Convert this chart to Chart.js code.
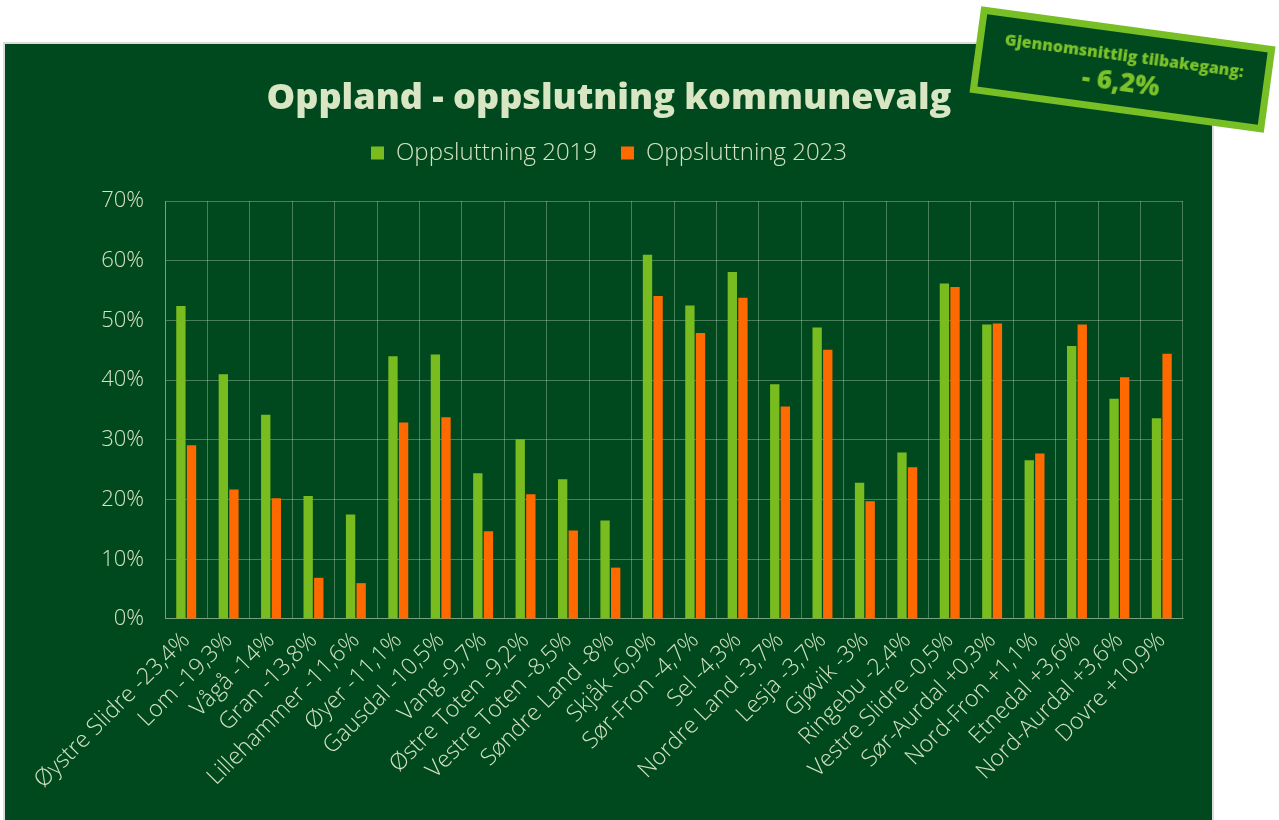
<!DOCTYPE html>
<html>
<head>
<meta charset="utf-8">
<script src="https://cdn.jsdelivr.net/npm/chart.js@4"></script>
<style>
  body { margin: 0; background: #fff; width: 1279px; height: 820px; overflow: hidden; position: relative; font-family: "Open Sans", sans-serif; }
  #panel { position: absolute; left: 5px; top: 44px; width: 1207px; height: 776px; background: #00491e; box-shadow: 0 0 0 2px #dcdcdc; }
  #badge { position: absolute; left: 974px; top: 26px; width: 283px; height: 73px; background: #00491e; border: 7px solid #78bf26;
           transform: rotate(7.75deg); color: #7cc22b; text-align: center; font-weight: 800; }
  #badge .l1 { font-size: 16px; margin-top: 12px; line-height: 20px; }
  #badge .l2 { font-size: 26px; line-height: 32px; }
</style>
</head>
<body>
<div id="panel"><canvas id="chart" width="1207" height="776"></canvas></div>
<div id="badge"><div class="l1">Gjennomsnittlig tilbakegang:</div><div class="l2">- 6,2%</div></div>
<script>
const kommuner = [
  "Øystre Slidre -23,4%", "Lom -19,3%", "Vågå -14%", "Gran -13,8%", "Lillehammer -11,6%",
  "Øyer -11,1%", "Gausdal -10,5%", "Vang -9,7%", "Østre Toten -9,2%", "Vestre Toten -8,5%",
  "Søndre Land -8%", "Skjåk -6,9%", "Sør-Fron -4,7%", "Sel -4,3%", "Nordre Land -3,7%",
  "Lesja -3,7%", "Gjøvik -3%", "Ringebu -2,4%", "Vestre Slidre -0,5%", "Sør-Aurdal +0,3%",
  "Nord-Fron +1,1%", "Etnedal +3,6%", "Nord-Aurdal +3,6%", "Dovre +10,9%"
];
const oppslutning2019 = [52.4, 41.0, 34.2, 20.6, 17.5, 44.0, 44.3, 24.4, 30.1, 23.4, 16.5, 61.0,
  52.5, 58.1, 39.3, 48.8, 22.8, 27.9, 56.2, 49.3, 26.6, 45.7, 36.9, 33.6];
const oppslutning2023 = [29.1, 21.7, 20.2, 6.9, 6.0, 32.9, 33.8, 14.7, 20.9, 14.8, 8.6, 54.1,
  47.9, 53.8, 35.6, 45.1, 19.7, 25.4, 55.6, 49.5, 27.7, 49.3, 40.5, 44.4];
const yTicks = [0, 10, 20, 30, 40, 50, 60, 70];

const txtColor = "#d5e3c0";
const gridColor = "rgba(210,225,205,0.35)";

// extra room under the legend
const legendMargin = {
  id: "legendMargin",
  beforeInit(chart) {
    const origFit = chart.legend.fit;
    chart.legend.fit = function () {
      origFit.bind(chart.legend)();
      this.height = 84;
    };
  }
};

new Chart(document.getElementById("chart").getContext("2d"), {
  type: "bar",
  data: {
    labels: kommuner,
    datasets: [{
      label: "Oppsluttning 2019",
      data: oppslutning2019,
      backgroundColor: "#78bc20",
      categoryPercentage: 0.5,
      barPercentage: 0.88
    }, {
      label: "Oppsluttning 2023",
      data: oppslutning2023,
      backgroundColor: "#ff6a00",
      categoryPercentage: 0.5,
      barPercentage: 0.88
    }]
  },
  options: {
    responsive: false,
    animation: false,
    layout: { padding: { top: 37, right: 29, bottom: 18, left: 30 } },
    plugins: {
      title: {
        display: true,
        text: "Oppland - oppslutning kommunevalg",
        color: "#d8e6c3",
        font: { family: "Open Sans", size: 36, weight: 800, lineHeight: 1 },
        padding: 0
      },
      legend: {
        labels: {
          color: txtColor,
          font: { family: "Open Sans", size: 24, weight: 300 },
          boxWidth: 13,
          boxHeight: 13,
          padding: 24
        }
      },
      tooltip: { enabled: false }
    },
    scales: {
      x: {
        grid: { color: gridColor, drawTicks: false },
        border: { color: gridColor },
        ticks: {
          color: txtColor,
          font: { family: "Open Sans", size: 23, weight: 300 },
          minRotation: 45,
          maxRotation: 45,
          padding: 8,
          autoSkip: false
        }
      },
      y: {
        min: 0,
        max: 70,
        afterBuildTicks(axis) { axis.ticks = yTicks.map(v => ({ value: v })); },
        afterFit(axis) { axis.width = 130; },
        grid: { color: gridColor, drawTicks: false },
        border: { color: gridColor },
        ticks: {
          color: txtColor,
          font: { family: "Open Sans", size: 22, weight: 300 },
          padding: 21,
          callback: v => v + "%"
        }
      }
    }
  },
  plugins: [legendMargin]
});
</script>
</body>
</html>
